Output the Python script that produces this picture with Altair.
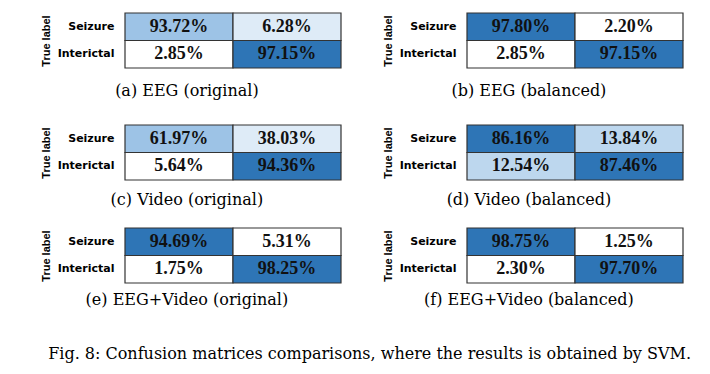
import altair as alt
import pandas as pd

# ---- data ----
captions = [
    "(a) EEG (original)", "(b) EEG (balanced)",
    "(c) Video (original)", "(d) Video (balanced)",
    "(e) EEG+Video (original)", "(f) EEG+Video (balanced)",
]
true_labels = ["Seizure", "Interictal"]
pred_labels = ["Seizure", "Interictal"]

# cell order per panel: (Seizure,Seizure), (Seizure,Interictal), (Interictal,Seizure), (Interictal,Interictal)
values = [
    [93.72, 6.28, 2.85, 97.15],
    [97.80, 2.20, 2.85, 97.15],
    [61.97, 38.03, 5.64, 94.36],
    [86.16, 13.84, 12.54, 87.46],
    [94.69, 5.31, 1.75, 98.25],
    [98.75, 1.25, 2.30, 97.70],
]
shades = [
    ["medium", "pale", "white", "dark"],
    ["dark", "white", "white", "dark"],
    ["medium", "pale", "white", "dark"],
    ["dark", "light", "light", "dark"],
    ["dark", "white", "white", "dark"],
    ["dark", "white", "white", "dark"],
]
shade_levels = ["dark", "medium", "light", "pale", "white"]
shade_colors = ["#2e75b6", "#9dc3e6", "#bdd7ee", "#deebf7", "#ffffff"]

fig_caption = "Fig. 8: Confusion matrices comparisons, where the results is obtained by SVM."

# ---- build ----
def panel(i, offset):
    rows = []
    k = 0
    for t in true_labels:
        for p in pred_labels:
            rows.append({"true": t, "pred": p, "value": values[i][k],
                         "label": f"{values[i][k]:.2f}%", "shade": shades[i][k]})
            k += 1
    df = pd.DataFrame(rows)
    base = alt.Chart(df).encode(
        x=alt.X("pred:N", sort=pred_labels, axis=None),
        y=alt.Y("true:N", sort=true_labels,
                axis=alt.Axis(title="True label", titleFont="Liberation Sans",
                              titleFontSize=11, titleFontWeight="bold",
                              titleColor="black", titlePadding=6,
                              labelFont="DejaVu Sans", labelFontSize=11,
                              labelFontWeight="bold", labelColor="black",
                              labelPadding=11, ticks=False, domain=False)),
    )
    rect = base.mark_rect(stroke="#333333", strokeWidth=1.2).encode(
        color=alt.Color("shade:N", scale=alt.Scale(domain=shade_levels, range=shade_colors),
                        legend=None)
    )
    text = base.mark_text(font="Liberation Serif, Times New Roman, serif", fontWeight="bold",
                          fontSize=18, color="#111111").encode(text="label:N")
    return alt.layer(rect, text).properties(
        width=216, height=55,
        title=alt.TitleParams(captions[i], orient="bottom", offset=offset, frame="bounds",
                              dx=-4, font="DejaVu Serif", fontSize=16, fontWeight="normal",
                              color="black"),
    )

row1 = alt.hconcat(panel(0, 14), panel(1, 14), spacing=40)
row2 = alt.hconcat(panel(2, 11), panel(3, 11), spacing=40)
row3 = alt.hconcat(panel(4, 8), panel(5, 8), spacing=40)

chart = alt.vconcat(alt.vconcat(row1, row2, spacing=25), row3, spacing=19).properties(
    padding={"left": 32, "top": 4, "right": 5, "bottom": 5},
    title=alt.TitleParams(fig_caption, orient="bottom", offset=38, dx=8,
                          font="DejaVu Serif", fontSize=16, fontWeight="normal",
                          color="black"),
).configure_view(stroke=None)

chart.save("out.html", embed_options={"renderer": "svg", "actions": False})
